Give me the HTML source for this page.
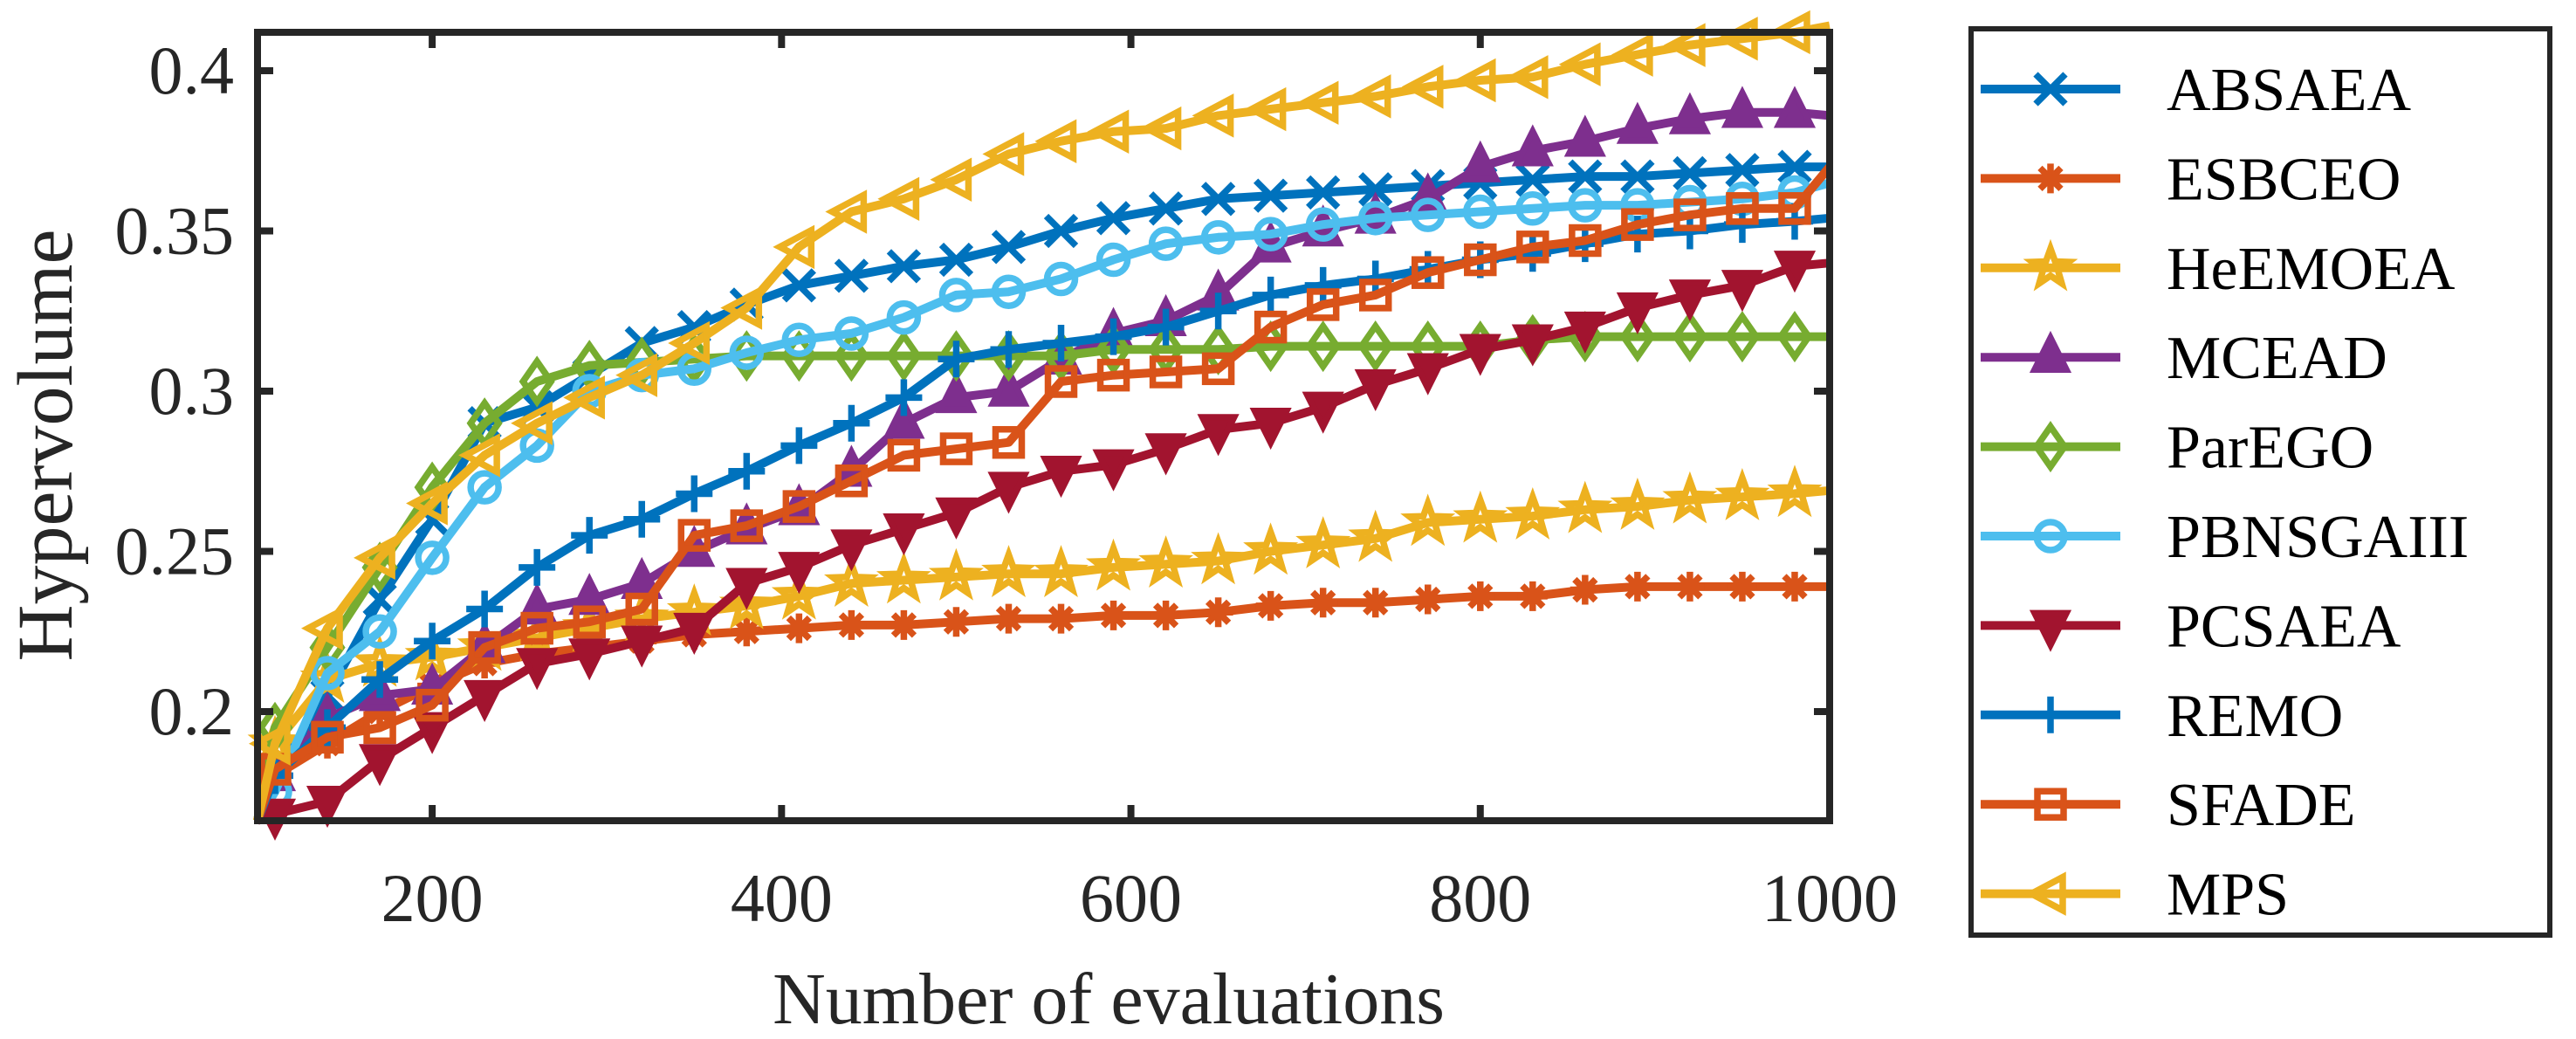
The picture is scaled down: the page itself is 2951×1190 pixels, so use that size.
<!DOCTYPE html>
<html><head><meta charset="utf-8"><style>
html,body{margin:0;padding:0;background:#fff;}
svg{display:block;font-family:"Liberation Serif",serif;}
</style></head><body>
<svg id="chart" width="2951" height="1190" viewBox="0 0 2951 1190" xmlns="http://www.w3.org/2000/svg">
<defs><clipPath id="plotclip"><rect x="260" y="10" width="1860" height="960"/></clipPath></defs>
<rect width="2951" height="1190" fill="#fff"/>
<g id="series" clip-path="url(#plotclip)"></g>
<g id="axes"></g>
<g id="legend"></g>
</svg>
<script>
const evals = [100,110,140,170,200,230,260,290,320,350,380,410,440,470,500,530,560,590,620,650,680,710,740,770,800,830,860,890,920,950,980,1000];
const seriesNames = ["ABSAEA","ESBCEO","HeEMOEA","MCEAD","ParEGO","PBNSGAIII","PCSAEA","REMO","SFADE","MPS"];
const absaea = [0.166,0.18,0.205,0.235,0.26,0.29,0.295,0.305,0.315,0.32,0.327,0.333,0.336,0.339,0.341,0.345,0.35,0.354,0.357,0.36,0.361,0.362,0.363,0.364,0.365,0.366,0.367,0.367,0.368,0.369,0.37,0.37];
const esbceo = [0.166,0.18,0.19,0.2,0.208,0.215,0.218,0.22,0.222,0.224,0.225,0.226,0.227,0.227,0.228,0.229,0.229,0.23,0.23,0.231,0.233,0.234,0.234,0.235,0.236,0.236,0.238,0.239,0.239,0.239,0.239,0.239];
const heemoea = [0.166,0.19,0.21,0.215,0.217,0.22,0.223,0.226,0.229,0.231,0.233,0.236,0.24,0.241,0.242,0.243,0.243,0.245,0.246,0.247,0.25,0.252,0.254,0.259,0.26,0.261,0.263,0.264,0.266,0.267,0.268,0.269];
const mcead = [0.166,0.18,0.198,0.205,0.207,0.22,0.232,0.235,0.24,0.25,0.257,0.263,0.275,0.29,0.298,0.3,0.31,0.318,0.322,0.33,0.345,0.35,0.354,0.36,0.37,0.375,0.378,0.382,0.385,0.387,0.387,0.386];
const parego = [0.166,0.195,0.22,0.245,0.27,0.29,0.303,0.308,0.309,0.31,0.311,0.311,0.311,0.311,0.311,0.311,0.311,0.313,0.313,0.313,0.314,0.314,0.314,0.314,0.314,0.316,0.317,0.317,0.317,0.317,0.317,0.317];
const pbnsgaiii = [0.166,0.175,0.212,0.225,0.248,0.27,0.283,0.3,0.305,0.307,0.312,0.316,0.318,0.323,0.33,0.331,0.335,0.341,0.346,0.348,0.349,0.352,0.354,0.355,0.356,0.357,0.358,0.358,0.359,0.36,0.362,0.365];
const pcsaea = [0.166,0.168,0.172,0.185,0.195,0.205,0.215,0.218,0.222,0.226,0.24,0.245,0.252,0.257,0.262,0.27,0.275,0.277,0.282,0.288,0.29,0.295,0.302,0.307,0.313,0.316,0.32,0.326,0.33,0.333,0.339,0.34];
const remo = [0.166,0.18,0.195,0.21,0.222,0.232,0.245,0.255,0.26,0.268,0.275,0.283,0.29,0.298,0.31,0.313,0.315,0.317,0.32,0.325,0.33,0.333,0.335,0.338,0.341,0.343,0.346,0.349,0.35,0.352,0.353,0.354];
const sfade = [0.166,0.182,0.192,0.195,0.202,0.22,0.226,0.228,0.232,0.255,0.258,0.264,0.272,0.28,0.282,0.284,0.303,0.305,0.306,0.307,0.32,0.327,0.33,0.337,0.341,0.345,0.347,0.352,0.355,0.357,0.357,0.37];
const mps = [0.166,0.19,0.226,0.248,0.265,0.28,0.29,0.298,0.305,0.315,0.326,0.345,0.356,0.36,0.366,0.374,0.378,0.381,0.382,0.386,0.388,0.39,0.392,0.395,0.397,0.398,0.402,0.405,0.408,0.41,0.412,0.414];
const xTicks = [200,400,600,800,1000];
const yTicks = [0.2,0.25,0.3,0.35,0.4];
const yTickLabels = ["0.2","0.25","0.3","0.35","0.4"];

const allSeries = [absaea,esbceo,heemoea,mcead,parego,pbnsgaiii,pcsaea,remo,sfade,mps];
const colors = ["#0072BD","#D95319","#EDB120","#7E2F8E","#77AC30","#4DBEEE","#A2142F","#0072BD","#D95319","#EDB120"];
const markers = ["x","star","pent","tri-up","diamond","circle","tri-down","plus","square","tri-left"];

const X0=295,X1=2096,Y0=37,Y1=940;
function xs(v){return X0+(v-100)/(1000-100)*(X1-X0);}
function ys(v){return 815-(v-0.2)*3670;}
const NS="http://www.w3.org/2000/svg";
function mk(tag,attrs,parent){const e=document.createElementNS(NS,tag);for(const k in attrs)e.setAttribute(k,attrs[k]);parent.appendChild(e);return e;}

function drawMarker(g,type,cx,cy,color){
  const s=17,sw=7.5;
  let e;
  if(type==="x"){e=mk("path",{d:`M${cx-s} ${cy-s}L${cx+s} ${cy+s}M${cx-s} ${cy+s}L${cx+s} ${cy-s}`,stroke:color,"stroke-width":sw,fill:"none"},g);}
  else if(type==="plus"){e=mk("path",{d:`M${cx-s-4} ${cy}L${cx+s+4} ${cy}M${cx} ${cy-s-4}L${cx} ${cy+s+4}`,stroke:color,"stroke-width":sw,fill:"none"},g);}
  else if(type==="star"){e=mk("path",{d:`M${cx-s} ${cy}L${cx+s} ${cy}M${cx} ${cy-s}L${cx} ${cy+s}M${cx-12} ${cy-12}L${cx+12} ${cy+12}M${cx-12} ${cy+12}L${cx+12} ${cy-12}`,stroke:color,"stroke-width":sw,fill:"none"},g);}
  else if(type==="pent"){let p=[];for(let i=0;i<10;i++){const r=i%2?9:22;const a=-Math.PI/2+i*Math.PI/5;p.push((cx+r*Math.cos(a)).toFixed(1)+","+(cy+r*Math.sin(a)).toFixed(1));}e=mk("polygon",{points:p.join(" "),stroke:color,"stroke-width":sw,fill:"none"},g);}
  else if(type==="circle"){e=mk("circle",{cx:cx,cy:cy,r:16,stroke:color,"stroke-width":sw,fill:"none"},g);}
  else if(type==="square"){e=mk("rect",{x:cx-15,y:cy-15,width:30,height:30,stroke:color,"stroke-width":sw,fill:"none"},g);}
  else if(type==="diamond"){e=mk("polygon",{points:`${cx},${cy-23} ${cx+16},${cy} ${cx},${cy+23} ${cx-16},${cy}`,stroke:color,"stroke-width":sw,fill:"none"},g);}
  else if(type==="tri-up"){e=mk("polygon",{points:`${cx},${cy-22} ${cx+18},${cy+14} ${cx-18},${cy+14}`,stroke:color,"stroke-width":sw,fill:color},g);}
  else if(type==="tri-down"){e=mk("polygon",{points:`${cx},${cy+22} ${cx+18},${cy-14} ${cx-18},${cy-14}`,stroke:color,"stroke-width":sw,fill:color},g);}
  else if(type==="tri-left"){e=mk("polygon",{points:`${cx-22},${cy} ${cx+14},${cy-19} ${cx+14},${cy+19}`,stroke:color,"stroke-width":sw,fill:"none"},g);}
  return e;
}

const sg=document.getElementById("series");
allSeries.forEach((vals,si)=>{
  const g=mk("g",{},sg);
  
  
  const pts=vals.map((v,i)=>xs(evals[i]).toFixed(1)+","+ys(v).toFixed(1)).join(" ");
  const line=mk("polyline",{points:pts,fill:"none",stroke:colors[si],"stroke-width":10,"stroke-linejoin":"round"},g);
  
  
  vals.forEach((v,i)=>{
    if(i===0||i===vals.length-1)return;
    const m=drawMarker(g,markers[si],xs(evals[i]),ys(v),colors[si]);
    
    
  });
});

const ag=document.getElementById("axes");
const frame=mk("rect",{x:X0,y:Y0,width:X1-X0,height:Y1-Y0,fill:"none",stroke:"#262626","stroke-width":8},ag);


xTicks.forEach(t=>{
  const x=xs(t);
  mk("line",{x1:x,y1:Y1,x2:x,y2:Y1-18,stroke:"#262626","stroke-width":8},ag);
  mk("line",{x1:x,y1:Y0,x2:x,y2:Y0+18,stroke:"#262626","stroke-width":8},ag);
  const tx=mk("text",{x:x,y:1055,"font-size":78,"text-anchor":"middle",fill:"#262626"},ag);
  tx.textContent=t;
  
  
});
yTicks.forEach((t,i)=>{
  const y=ys(t);
  mk("line",{x1:X0,y1:y,x2:X0+18,y2:y,stroke:"#262626","stroke-width":8},ag);
  mk("line",{x1:X1,y1:y,x2:X1-18,y2:y,stroke:"#262626","stroke-width":8},ag);
  const tx=mk("text",{x:268,y:y+26,"font-size":78,"text-anchor":"end",fill:"#262626"},ag);
  tx.textContent=yTickLabels[i];
  
  
});
const xt=mk("text",{x:1270,y:1172,"font-size":84,"text-anchor":"middle",fill:"#262626"},ag);
xt.textContent="Number of evaluations";


const yt=mk("text",{x:0,y:0,"font-size":90,"text-anchor":"middle",fill:"#262626",transform:"translate(82,510) rotate(-90)"},ag);
yt.textContent="Hypervolume";



const lg=document.getElementById("legend");
const box=mk("rect",{x:2258,y:33,width:663,height:1038,fill:"#fff",stroke:"#262626","stroke-width":6},lg);


seriesNames.forEach((n,i)=>{
  const y=102+i*102.4;
  const e=mk("g",{},lg);
  
  
  mk("line",{x1:2269,y1:y,x2:2429,y2:y,stroke:colors[i],"stroke-width":10},e);
  drawMarker(e,markers[i],2349,y,colors[i]);
  const t=mk("text",{x:2482,y:y+24,"font-size":70,fill:"#000"},e);
  t.textContent=n;
});
</script>
</body></html>
